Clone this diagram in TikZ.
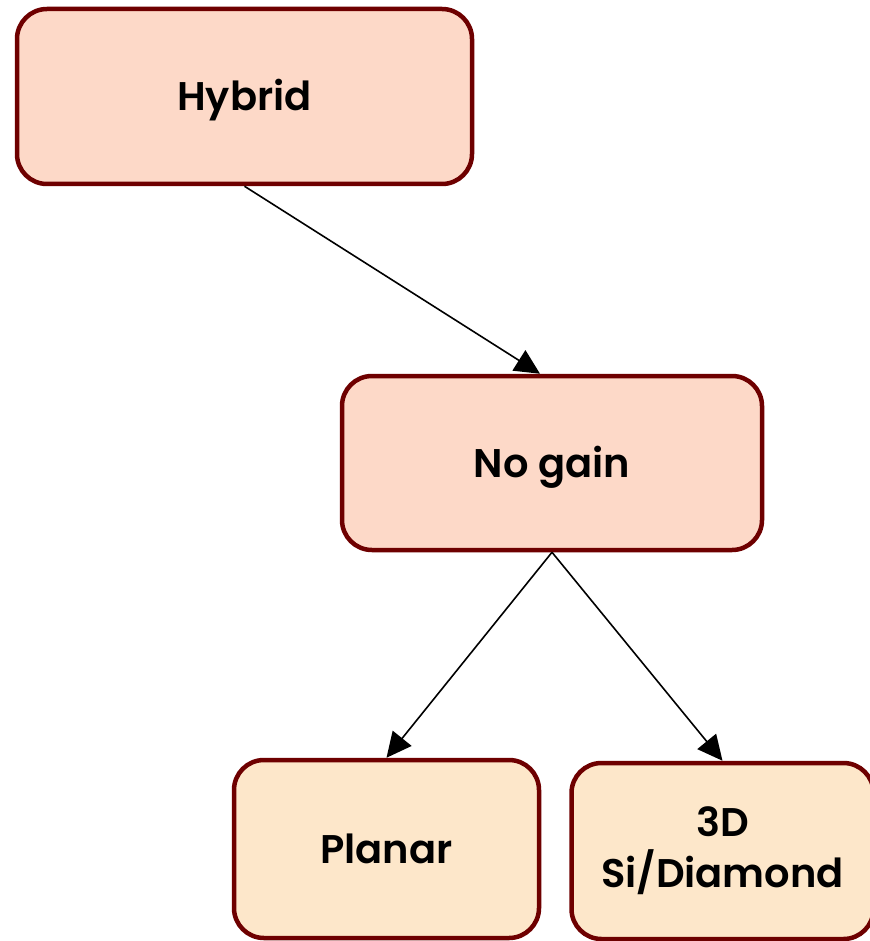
\documentclass[tikz,border=0pt]{standalone}
\usepackage{fontspec}
\setmainfont{Poppins}[BoldFont={* SemiBold}]
\usetikzlibrary{arrows.meta,calc}
\definecolor{edgered}{HTML}{6E0000}
\definecolor{peach}{HTML}{FDD9C8}
\definecolor{cream}{HTML}{FDE7CA}
\tikzset{
  box/.style={draw=edgered, line width=4.5pt, rounded corners=30pt, inner sep=0pt,
    align=center, font=\fontsize{40}{51}\selectfont\bfseries, text=black},
  oneline/.style={text height=28pt, text depth=0pt},
  conn/.style={line width=1.6pt, -{Triangle[length=25pt,width=24pt]}}
}
\begin{document}
\begin{tikzpicture}[x=1pt,y=-1pt]
\useasboundingbox (0,0) rectangle (869,941);
\node[box, oneline, fill=peach, minimum width=455pt, minimum height=175pt] (hybrid) at (244.5,96.5) {Hybrid};
\node[box, oneline, fill=peach, minimum width=420pt, minimum height=174pt] (nogain) at (552,463) {No gain};
\node[box, oneline, fill=cream, minimum width=305pt, minimum height=178pt] (planar) at (386.5,849) {Planar};
\node[box, fill=cream, minimum width=302pt, minimum height=176pt] (three) at (722.5,851) {3D\\Si/Diamond};
\draw[conn] (hybrid.south) -- ($(nogain.north)+(-12,0)$);
\draw[conn] (nogain.south) -- (planar.north);
\draw[conn] (nogain.south) -- (three.north);
\end{tikzpicture}
\end{document}
